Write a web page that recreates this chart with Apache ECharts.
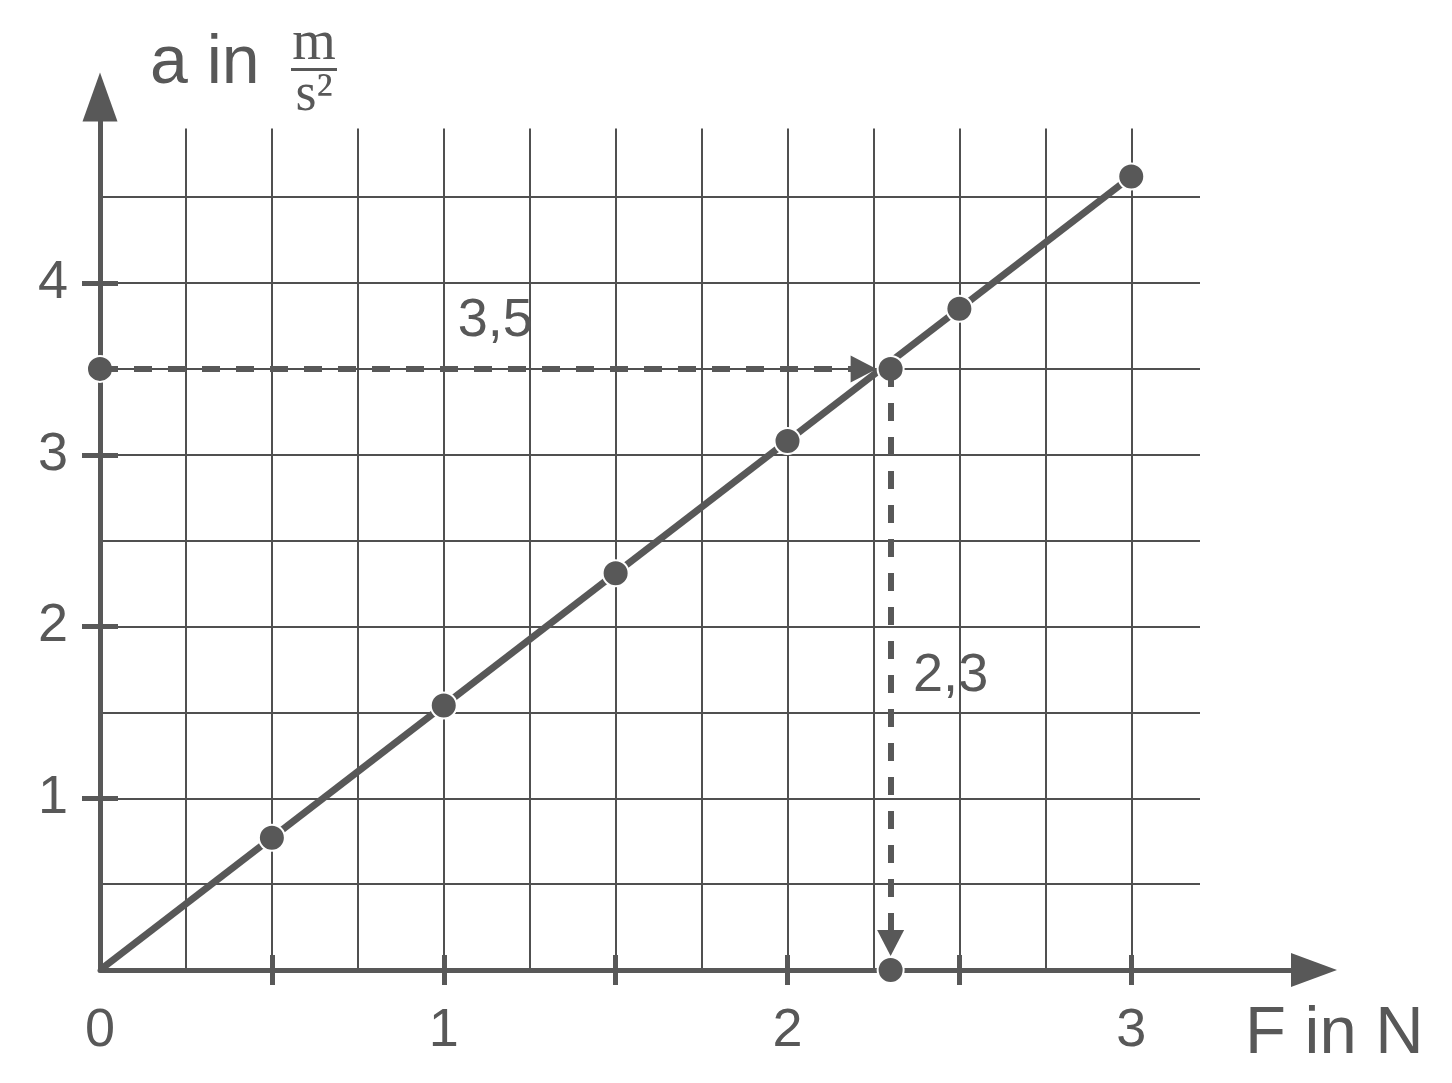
<!DOCTYPE html>
<html>
<head>
<meta charset="utf-8">
<script src="https://cdn.jsdelivr.net/npm/echarts@6/dist/echarts.min.js"></script>
<style>
html, body { margin: 0; padding: 0; background: #fff; }
#main { width: 1452px; height: 1083px; }
</style>
</head>
<body>
<div id="main"></div>
<script>
// Messwerte F (N) / a (m/s^2)
var forceN = [0.5, 1, 1.5, 2, 2.5, 3];
var accel = [0.77, 1.54, 2.31, 3.08, 3.85, 4.62];
// Ausgleichsgerade durch den Ursprung
var fitLine = [[0, 0], [3, 4.62]];
var readF = 2.3;
var readA = 3.5;
var readLabels = ['3,5', '2,3'];
// Achsen
var xTickValues = [0.5, 1, 1.5, 2, 2.5, 3];
var xLabelValues = [0, 1, 2, 3];
var yTickValues = [1, 2, 3, 4];
var gridMaxX = 3.2, gridStepX = 0.25;
var gridMaxY = 4.9, gridStepY = 0.5;

var ink = '#585858';
var gridInk = '#505050';
var font = 'Liberation Sans';

// Pixel-Layout
var ox = 100, oy = 970;          // Ursprung
var pxX = 343.75, pxY = 171.75;  // Pixel je Einheit
var axisEndX = 1314, axisEndY = 97;
var axisMaxX = (axisEndX - ox) / pxX;
var axisMaxY = (oy - axisEndY) / pxY;
var dotR = 13;

var myChart = echarts.init(document.getElementById('main'));

var dotStyle = {
	color: ink,
	opacity: 1,
	borderColor: '#fff',
	borderWidth: 2
};

var measured = [];
forceN.forEach(function(f, i) {
	measured.push([f, accel[i]]);
});

var option = {
	backgroundColor: '#fff',
	animation: false,
	grid: [
		{ left: ox, bottom: 1083 - oy, width: axisEndX - ox, height: oy - axisEndY },
		{ left: ox, bottom: 1083 - oy, width: gridMaxX * pxX, height: gridMaxY * pxY }
	],
	xAxis: [
		{
			gridIndex: 0, type: 'value', min: 0, max: axisMaxX, position: 'bottom',
			axisLine: {
				lineStyle: { color: ink, width: 5 },
				symbol: ['none', 'triangle'],
				symbolSize: [34, 46]
			},
			axisTick: { customValues: xTickValues, length: 15, lineStyle: { color: ink, width: 5 } },
			axisLabel: {
				customValues: xLabelValues, margin: 34, fontSize: 54,
				color: ink, fontFamily: font,
				formatter: function(v) { return String(v); }
			},
			splitLine: { show: false }
		},
		{
			gridIndex: 0, type: 'value', min: 0, max: axisMaxX, position: 'bottom',
			axisLine: { show: false },
			axisTick: { customValues: xTickValues, inside: true, length: 15, lineStyle: { color: ink, width: 5 } },
			axisLabel: { show: false },
			splitLine: { show: false }
		},
		{
			gridIndex: 1, type: 'value', min: 0, max: gridMaxX, interval: gridStepX,
			axisLine: { show: false }, axisTick: { show: false }, axisLabel: { show: false },
			splitLine: { show: true, showMinLine: false, showMaxLine: false, lineStyle: { color: gridInk, width: 2 } }
		}
	],
	yAxis: [
		{
			gridIndex: 0, type: 'value', min: 0, max: axisMaxY, position: 'left',
			axisLine: {
				lineStyle: { color: ink, width: 5 },
				symbol: ['none', 'triangle'],
				symbolSize: [35, 49]
			},
			axisTick: { customValues: yTickValues, length: 18, lineStyle: { color: ink, width: 5 } },
			axisLabel: {
				customValues: yTickValues, margin: 32, fontSize: 54,
				color: ink, fontFamily: font,
				formatter: function(v) { return String(v); }
			},
			splitLine: { show: false }
		},
		{
			gridIndex: 0, type: 'value', min: 0, max: axisMaxY, position: 'left',
			axisLine: { show: false },
			axisTick: { customValues: yTickValues, inside: true, length: 18, lineStyle: { color: ink, width: 5 } },
			axisLabel: { show: false },
			splitLine: { show: false }
		},
		{
			gridIndex: 1, type: 'value', min: 0, max: gridMaxY, interval: gridStepY,
			axisLine: { show: false }, axisTick: { show: false }, axisLabel: { show: false },
			splitLine: { show: true, showMinLine: false, showMaxLine: false, lineStyle: { color: gridInk, width: 2 } }
		}
	],
	series: [
		{
			name: 'fit', type: 'line', xAxisIndex: 0, yAxisIndex: 0,
			data: fitLine, symbol: 'none', silent: true,
			lineStyle: { color: ink, width: 7 }
		},
		{
			name: 'read', type: 'scatter', xAxisIndex: 0, yAxisIndex: 0, clip: false, silent: true,
			data: [[0, readA], [readF, readA], [readF, 0]],
			symbolSize: dotR * 2, itemStyle: dotStyle, z: 4,
			markLine: {
				silent: true,
				symbol: ['none', 'triangle'],
				symbolSize: [27, 26],
				label: { show: false },
				lineStyle: { color: ink, width: 6, type: [18, 16], opacity: 1 },
				data: [
					[{ coord: [0, readA] }, { coord: [readF - (dotR + 14) / pxX, readA] }],
					[{ coord: [readF, readA] }, { coord: [readF, (dotR + 14) / pxY] }]
				]
			}
		},
		{
			name: 'measured', type: 'scatter', xAxisIndex: 0, yAxisIndex: 0, clip: false, silent: true,
			data: measured, symbolSize: dotR * 2, itemStyle: dotStyle, z: 5
		},
		{
			name: 'labels', type: 'scatter', xAxisIndex: 0, yAxisIndex: 0, silent: true,
			symbolSize: 0,
			itemStyle: { opacity: 1 },
			data: [
				{ name: readLabels[0], value: [readF / 2, readA], label: { offset: [0, -48] } },
				{ name: readLabels[1], value: [readF, readA / 2], label: { offset: [60, 7] } }
			],
			label: {
				show: true, position: 'inside', formatter: '{b}',
				fontSize: 54, color: ink, fontFamily: font
			}
		}
	],
	graphic: [
		{
			type: 'text', left: 150, top: 30,
			style: { text: 'a in', fontSize: 68, fontFamily: font, fill: ink }
		},
		{
			type: 'text', x: 314, y: 44,
			style: { text: 'm', fontSize: 56, fontFamily: 'Liberation Serif', fill: ink, align: 'center', verticalAlign: 'middle' }
		},
		{
			type: 'rect', shape: { x: 291, y: 68, width: 46, height: 3 },
			style: { fill: ink }
		},
		{
			type: 'text', x: 314, y: 96,
			style: { text: 's²', fontSize: 54, fontFamily: 'Liberation Serif', fill: ink, align: 'center', verticalAlign: 'middle' }
		},
		{
			type: 'text', x: 1245, y: 1035,
			style: { text: 'F in N', fontSize: 67, fontFamily: font, fill: ink, verticalAlign: 'middle' }
		}
	]
};
myChart.setOption(option, true);
</script>
</body>
</html>
